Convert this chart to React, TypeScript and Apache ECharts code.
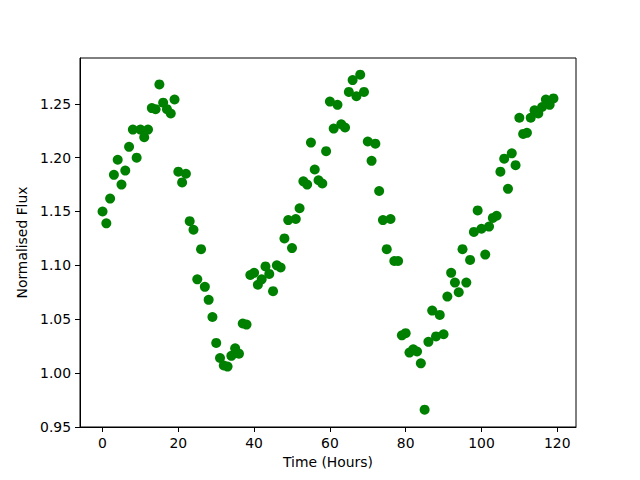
import React, { useEffect, useRef } from "react";
import * as echarts from "echarts";

const hours: number[] = Array.from({ length: 120 }, (_, i) => i);

const flux: number[] = [
  1.150, 1.139, 1.162, 1.184, 1.198, 1.175, 1.188, 1.210, 1.226, 1.200,
  1.226, 1.219, 1.226, 1.246, 1.245, 1.268, 1.251, 1.245, 1.241, 1.254,
  1.187, 1.177, 1.185, 1.141, 1.133, 1.087, 1.115, 1.080, 1.068, 1.052,
  1.028, 1.014, 1.007, 1.006, 1.016, 1.023, 1.018, 1.046, 1.045, 1.091,
  1.093, 1.082, 1.087, 1.099, 1.092, 1.076, 1.100, 1.098, 1.125, 1.142,
  1.116, 1.143, 1.153, 1.178, 1.175, 1.214, 1.189, 1.179, 1.176, 1.206,
  1.252, 1.227, 1.249, 1.231, 1.228, 1.261, 1.272, 1.257, 1.277, 1.261,
  1.215, 1.197, 1.213, 1.169, 1.142, 1.115, 1.143, 1.104, 1.104, 1.035,
  1.037, 1.019, 1.022, 1.020, 1.009, 0.966, 1.029, 1.058, 1.034, 1.054,
  1.036, 1.071, 1.093, 1.084, 1.075, 1.115, 1.084, 1.105, 1.131, 1.151,
  1.134, 1.110, 1.136, 1.144, 1.146, 1.187, 1.199, 1.171, 1.204, 1.193,
  1.237, 1.222, 1.223, 1.237, 1.244, 1.241, 1.247, 1.254, 1.249, 1.255,
];

const xTicks: number[] = [0, 20, 40, 60, 80, 100, 120];
const yTicks: number[] = [0.95, 1.0, 1.05, 1.1, 1.15, 1.2, 1.25];

const FONT = "DejaVu Sans";

export default function App() {
  const ref = useRef<HTMLDivElement>(null);
  useEffect(() => {
    if (!ref.current) return;
    const chart = echarts.init(ref.current, null, { renderer: "svg" });
    const data = hours.map((h, i) => [h, flux[i]]);
    chart.setOption({
      animation: false,
      backgroundColor: "#ffffff",
      grid: {
        left: 80,
        right: 64,
        top: 58,
        bottom: 53,
        show: true,
        borderColor: "#000000",
        borderWidth: 1,
        backgroundColor: "transparent",
      },
      xAxis: {
        type: "value",
        min: -5.95,
        max: 124.95,
        name: "Time (Hours)",
        nameLocation: "middle",
        nameGap: 28,
        nameTextStyle: { fontFamily: FONT, fontSize: 13.9, color: "#000" },
        axisLine: { show: true, onZero: false, lineStyle: { color: "#000", width: 1 } },
        axisTick: {
          show: true,
          length: 5,
          inside: false,
          customValues: xTicks,
          lineStyle: { color: "#000", width: 1 },
        },
        axisLabel: {
          customValues: xTicks,
          margin: 9,
          fontFamily: FONT,
          fontSize: 13.9,
          color: "#000",
        },
        splitLine: { show: false },
      },
      yAxis: {
        type: "value",
        min: 0.9499,
        max: 1.2925,
        name: "Normalised Flux",
        nameLocation: "middle",
        nameGap: 43,
        nameRotate: 90,
        nameTextStyle: { fontFamily: FONT, fontSize: 13.9, color: "#000" },
        axisLine: { show: true, onZero: false, lineStyle: { color: "#000", width: 1 } },
        axisTick: {
          show: true,
          length: 5,
          inside: false,
          customValues: yTicks,
          lineStyle: { color: "#000", width: 1 },
        },
        axisLabel: {
          customValues: yTicks,
          margin: 9,
          fontFamily: FONT,
          fontSize: 13.9,
          color: "#000",
          formatter: (v: number) => v.toFixed(2),
        },
        splitLine: { show: false },
      },
      series: [
        {
          type: "scatter",
          data,
          symbol: "circle",
          symbolSize: 10,
          itemStyle: { color: "#008000", opacity: 1 },
        },
      ],
    });
    return () => chart.dispose();
  }, []);
  return (
    <div
      ref={ref}
      style={{ position: "absolute", left: 0, top: 0, width: 640, height: 480 }}
    />
  );
}
